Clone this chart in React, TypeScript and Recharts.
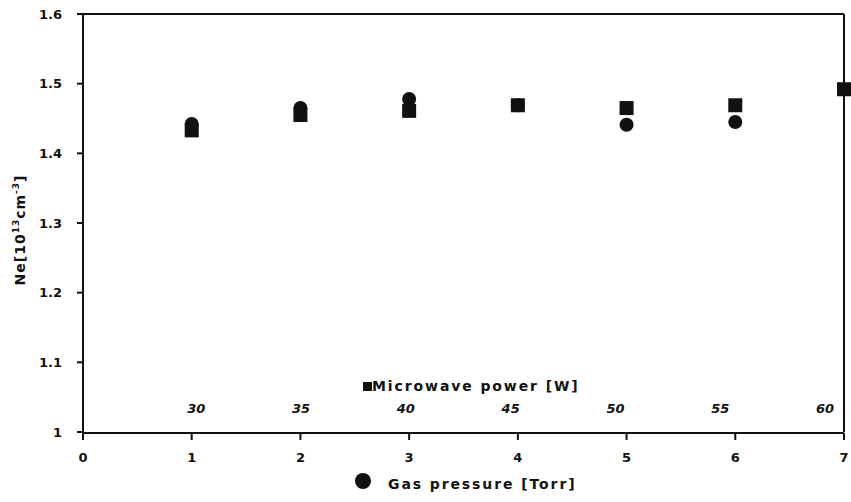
import React from 'react';
import { ScatterChart, Scatter, XAxis, YAxis, ReferenceLine } from 'recharts';

// Ne vs gas pressure (circles) and vs microwave power (squares)
const pressure = [1, 2, 3, 4, 5, 6];
const neByPressure = [1.442, 1.465, 1.478, 1.469, 1.441, 1.445];
const power = [30, 35, 40, 45, 50, 55, 60];
const powerStep = [1, 2, 3, 4, 5, 6, 7]; // where each power setting sits on the shared x scale
const neByPower = [1.433, 1.455, 1.461, 1.469, 1.465, 1.469, 1.492];

const pressureTicks = [0, 1, 2, 3, 4, 5, 6, 7];
const powerTicks = [30, 35, 40, 45, 50, 55, 60];
const neTicks = [1, 1.1, 1.2, 1.3, 1.4, 1.5, 1.6];

const FONT = '"DejaVu Sans", Arial, sans-serif';
const INK = '#111';

const pressureData = pressure.map((p, i) => ({ p, ne: neByPressure[i] }));
const powerData = power.map((w, i) => ({ p: powerStep[i], w, ne: neByPower[i] }));

const Circle = (props: any) => <circle cx={props.cx} cy={props.cy} r={7} fill={INK} />;
const Square = (props: any) => (
  <rect x={props.cx - 7} y={props.cy - 7} width={14} height={14} fill={INK} />
);

// power labels sit inside the plot, just above the x axis
const PowerTick = (props: any) => (
  <text
    x={props.x}
    y={413}
    textAnchor="middle"
    fontFamily={FONT}
    fontSize={13}
    fontWeight="bold"
    fontStyle="italic"
    fill={INK}
  >
    {props.payload.value}
  </text>
);

const YTitle = () => (
  <text
    transform="translate(25,230) rotate(-90)"
    textAnchor="middle"
    fontFamily={FONT}
    fontSize={14}
    fontWeight="bold"
    letterSpacing={1}
    fill={INK}
  >
    Ne[10
    <tspan fontSize={9} dy={-6}>13</tspan>
    <tspan dy={6}>cm</tspan>
    <tspan fontSize={9} dy={-6}>-3</tspan>
    <tspan dy={6}>]</tspan>
  </text>
);

const tickStyle = { fontFamily: FONT, fontSize: 13, fontWeight: 'bold', fill: INK };

const legendText = {
  position: 'absolute' as const,
  fontFamily: FONT,
  fontSize: 14,
  fontWeight: 'bold' as const,
  letterSpacing: 1.9,
  color: INK,
  whiteSpace: 'nowrap' as const,
  display: 'flex',
  alignItems: 'center',
};

export default function App() {
  return (
    <div style={{ position: 'fixed', left: 0, top: 0, width: 851, height: 502, background: '#fff' }}>
      <ScatterChart width={851} height={502} margin={{ top: 14, right: 7, bottom: 0, left: 0 }}>
        <XAxis
          xAxisId="p"
          type="number"
          dataKey="p"
          domain={[0, 7]}
          ticks={pressureTicks}
          height={69}
          tickSize={7}
          tickMargin={13}
          tick={tickStyle}
          axisLine={{ stroke: INK, strokeWidth: 2 }}
          tickLine={{ stroke: INK, strokeWidth: 2 }}
        />
        {/* secondary power scale, slightly narrower than the step spacing like the original */}
        <XAxis
          xAxisId="mw"
          type="number"
          dataKey="w"
          domain={[24.6, 60.9]}
          allowDataOverflow
          ticks={powerTicks}
          height={1}
          axisLine={false}
          tickLine={false}
          tick={<PowerTick />}
        />
        <YAxis
          type="number"
          dataKey="ne"
          domain={[1, 1.6]}
          ticks={neTicks}
          width={83}
          tickSize={6}
          tickMargin={15}
          tick={tickStyle}
          axisLine={{ stroke: INK, strokeWidth: 2 }}
          tickLine={{ stroke: INK, strokeWidth: 2 }}
          label={{ content: () => <YTitle /> }}
        />
        <ReferenceLine xAxisId="p" y={1.6} stroke={INK} strokeWidth={2} />
        <ReferenceLine xAxisId="p" x={7} stroke={INK} strokeWidth={2} />
        <Scatter xAxisId="p" data={pressureData} shape={<Circle />} isAnimationActive={false} />
        <Scatter xAxisId="p" data={powerData} shape={<Square />} isAnimationActive={false} />
      </ScatterChart>
      <div style={{ ...legendText, left: 363, top: 378 }}>
        <span style={{ display: 'inline-block', width: 9, height: 9, background: INK, marginRight: 0 }} />
        Microwave power [W]
      </div>
      <div style={{ ...legendText, left: 355, top: 473 }}>
        <span
          style={{ display: 'inline-block', width: 16, height: 16, borderRadius: '50%', background: INK, marginRight: 17 }}
        />
        <span style={{ position: 'relative', top: 3 }}>Gas pressure [Torr]</span>
      </div>
    </div>
  );
}
